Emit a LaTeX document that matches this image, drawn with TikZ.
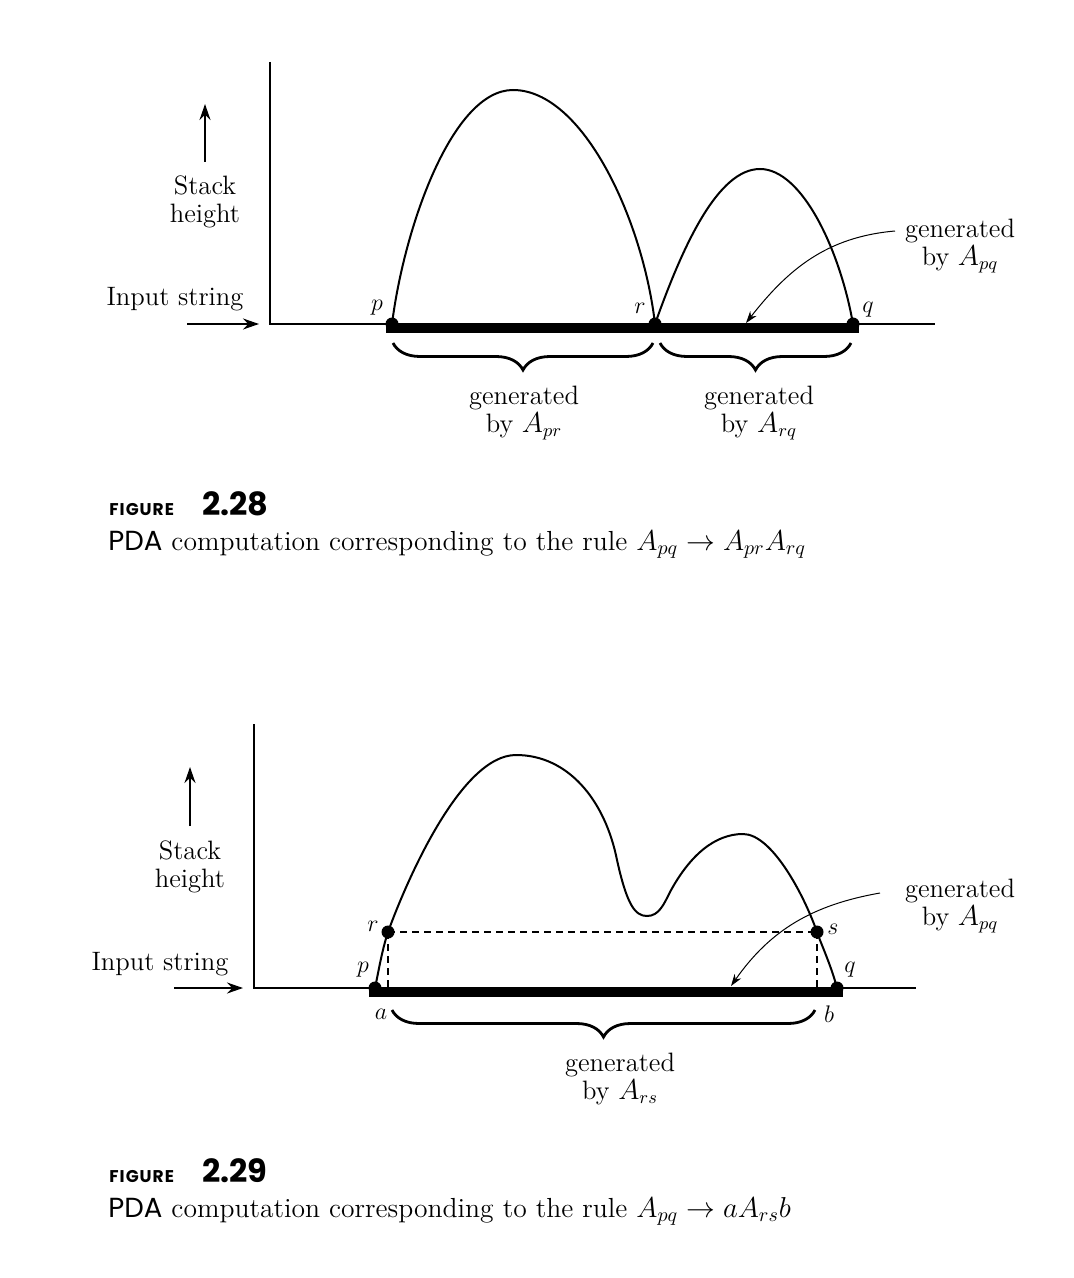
\documentclass[tikz,border=0pt]{standalone}
\usepackage{fontspec}
\newfontfamily\capfont{Poppins}
\usetikzlibrary{arrows.meta,decorations.pathreplacing}
\tikzset{
  axisl/.style={line width=1pt},
  curvel/.style={line width=1pt},
  barl/.style={line width=4.7pt},
  dot/.style={circle,fill,inner sep=0pt,minimum size=6.5pt},
  lab/.style={font=\fontsize{13.3}{14}\selectfont, align=center, inner sep=0pt},
  plab/.style={font=\fontsize{13}{14}\selectfont, inner sep=0pt},
  brc/.style={decorate,decoration={brace,mirror,amplitude=13.5pt},line width=1.4pt},
  ptr/.style={line width=0.5pt,-{Stealth[length=6pt,width=4pt]}},
  inarrow/.style={line width=1pt,-{Stealth[length=8pt,width=5.5pt]}},
  dsh/.style={line width=0.9pt, dash pattern=on 3.5pt off 2.5pt},
  capt/.style={font=\fontsize{13.8}{15}\selectfont, anchor=base west, inner sep=0pt},
  fighead/.style={font=\capfont\bfseries\fontsize{8.5}{10}\selectfont\addfontfeatures{LetterSpace=6}, anchor=base west, inner sep=0pt},
  fignum/.style={font=\capfont\bfseries\fontsize{16}{18}\selectfont, anchor=base west, inner sep=0pt}
}
\begin{document}
\begin{tikzpicture}[x=0.5pt,y=0.5pt]
\useasboundingbox (0,0) rectangle (1074,-1278);
% ================= Figure 2.28 =================
\coordinate (o1) at (270,-324);
\coordinate (ytop1) at (270,-62);
\coordinate (xend1) at (935,-324);
\draw[axisl] (ytop1) -- (o1) -- (xend1);
\coordinate (ia1s) at (187,-324);
\coordinate (ia1e) at (259,-324);
\draw[inarrow] (ia1s) -- (ia1e);
\node[lab] (in1) at (175,-299) {Input string};
\coordinate (sa1s) at (205,-162);
\coordinate (sa1e) at (205,-104);
\draw[inarrow] (sa1s) -- (sa1e);
\node[lab] (st1) at (205,-202) {Stack\\height};
\coordinate (b1l) at (386,-328.5);
\coordinate (b1r) at (859,-328.5);
\draw[barl] (b1l) -- (b1r);
\node[dot] (p1) at (392,-324) {};
\node[dot] (r1) at (655,-324) {};
\node[dot] (q1) at (853,-324) {};
\coordinate (top1) at (513,-90);
\coordinate (top2) at (760,-169);
\draw[curvel] (p1.center) .. controls (404,-228) and (452,-90) .. (top1)
  .. controls (583,-90) and (643,-220) .. (r1.center);
\draw[curvel] (r1.center) .. controls (683,-245) and (718,-169) .. (top2)
  .. controls (802,-169) and (840,-250) .. (q1.center);
\node[plab] (pl1) at (377,-308) {$p$};
\node[plab] (rl1) at (640,-308) {$r$};
\node[plab] (ql1) at (868,-310) {$q$};
\coordinate (br1a) at (393,-343);
\coordinate (br1b) at (653,-343);
\coordinate (br2a) at (660,-343);
\coordinate (br2b) at (851,-343);
\draw[brc] (br1a) -- (br1b);
\draw[brc] (br2a) -- (br2b);
\node[lab] (g1) at (524,-413) {generated\\by $A_{pr}$};
\node[lab] (g2) at (759,-413) {generated\\by $A_{rq}$};
\node[lab] (g3) at (960,-246) {generated\\by $A_{pq}$};
\coordinate (a1s) at (895,-231);
\coordinate (a1e) at (746,-323);
\draw[ptr] (a1s) to[out=185,in=52] (a1e);
\node[fighead] (fig1) at (109,-515) {FIGURE};
\node[fignum] (num1) at (202,-515) {2.28};
\node[capt] (cap1) at (108,-550) {{\capfont PDA} computation corresponding to the rule $A_{pq}\rightarrow A_{pr}A_{rq}$};
% ================= Figure 2.29 =================
\coordinate (o2) at (254,-988);
\coordinate (ytop2) at (254,-724);
\coordinate (xend2) at (916,-988);
\draw[axisl] (ytop2) -- (o2) -- (xend2);
\coordinate (ia2s) at (174,-988);
\coordinate (ia2e) at (243,-988);
\draw[inarrow] (ia2s) -- (ia2e);
\node[lab] (in2) at (160,-964) {Input string};
\coordinate (sa2s) at (190,-826);
\coordinate (sa2e) at (190,-767);
\draw[inarrow] (sa2s) -- (sa2e);
\node[lab] (st2) at (190,-867) {Stack\\height};
\coordinate (b2l) at (369,-992.5);
\coordinate (b2r) at (843,-992.5);
\draw[barl] (b2l) -- (b2r);
\node[dot] (p2) at (375,-988) {};
\node[dot] (q2) at (837,-988) {};
\node[dot] (r2) at (388,-932) {};
\node[dot] (s2) at (817,-932) {};
\draw[dsh] (r2.center) -- (s2.center);
\draw[dsh] (r2.center) -- (r2.center |- p2.center);
\draw[dsh] (s2.center) -- (s2.center |- q2.center);
\coordinate (pk1) at (516,-755);
\coordinate (d1) at (617,-860);
\coordinate (vl) at (647,-916);
\coordinate (u1) at (670,-892);
\coordinate (pk2) at (743,-834);
\draw[curvel] (p2.center) .. controls (378,-974) and (382,-950) .. (r2.center)
  .. controls (405,-885) and (460,-755) .. (pk1)
  .. controls (568,-755) and (605,-800) .. (d1)
  .. controls (627,-905) and (635,-916) .. (vl)
  .. controls (659,-916) and (664,-904) .. (u1)
  .. controls (690,-855) and (715,-834) .. (pk2)
  .. controls (772,-834) and (804,-895) .. (s2.center)
  .. controls (821,-944) and (831,-965) .. (q2.center);
\node[plab] (rl2) at (373,-926) {$r$};
\node[plab] (pl2) at (363,-970) {$p$};
\node[plab] (sl2) at (833,-929) {$s$};
\node[plab] (ql2) at (850,-970) {$q$};
\node[plab] (al2) at (381,-1014) {$a$};
\node[plab] (bl2) at (829,-1014) {$b$};
\coordinate (br3a) at (392,-1010);
\coordinate (br3b) at (815,-1010);
\draw[brc] (br3a) -- (br3b);
\node[lab] (g4) at (620,-1079) {generated\\by $A_{rs}$};
\node[lab] (g5) at (960,-906) {generated\\by $A_{pq}$};
\coordinate (a2s) at (880,-893);
\coordinate (a2e) at (731,-986);
\draw[ptr] (a2s) to[out=190,in=55] (a2e);
\node[fighead] (fig2) at (109,-1182) {FIGURE};
\node[fignum] (num2) at (202,-1182) {2.29};
\node[capt] (cap2) at (108,-1217) {{\capfont PDA} computation corresponding to the rule $A_{pq}\rightarrow aA_{rs}b$};
\end{tikzpicture}
\end{document}
